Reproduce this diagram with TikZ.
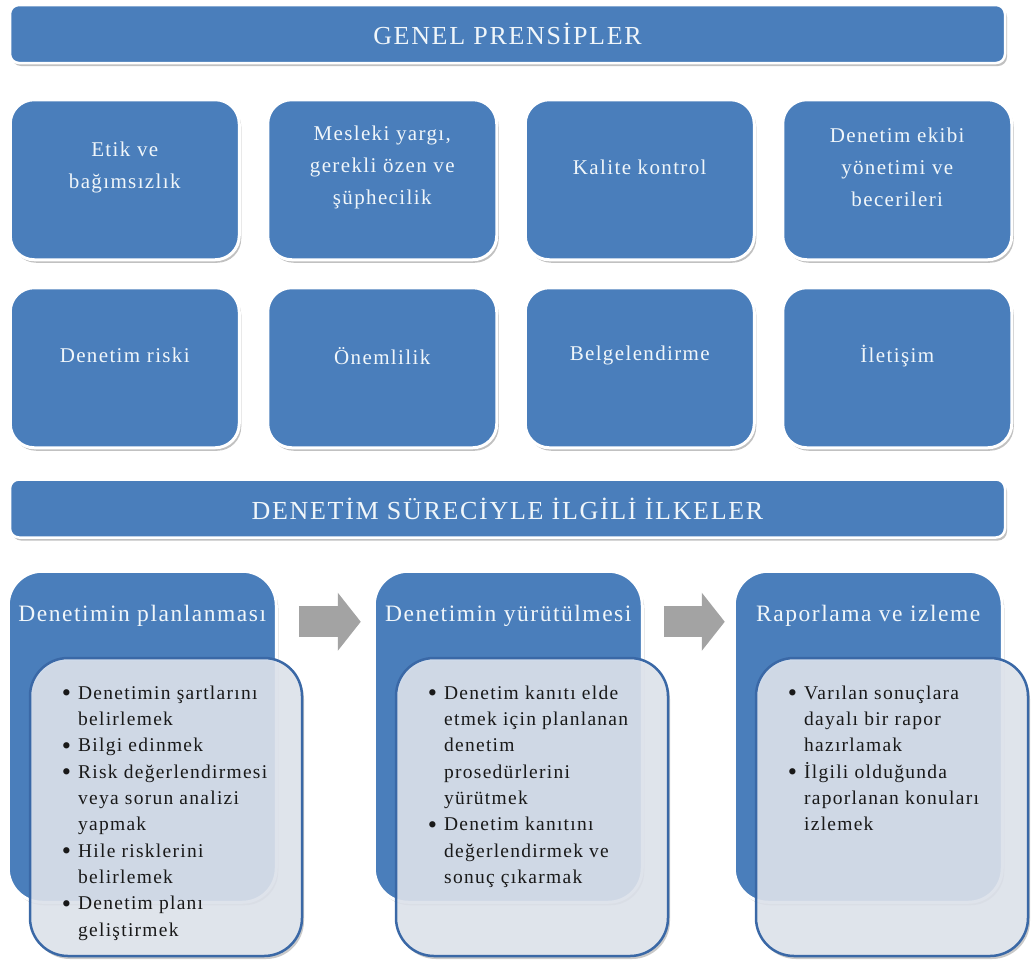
\documentclass[tikz,border=0pt]{standalone}
\usepackage{fontspec}
\setmainfont{Liberation Serif}[LetterSpace=6.5]
\usepackage{tikz}
\usetikzlibrary{arrows.meta,positioning,calc,shadows}

\definecolor{kmavi}{RGB}{74,126,187}
\definecolor{cerceve}{RGB}{58,104,166}
\definecolor{acik}{RGB}{226,231,240}
\definecolor{okgri}{RGB}{163,163,163}
\definecolor{beyazyazi}{RGB}{240,246,250}

\newcommand{\nokta}{\raisebox{-2.5pt}{\scalebox{1.35}{\textbullet}}}

\begin{document}
\begin{tikzpicture}[
	x = 1pt, y = -1pt, % pixel grid of the page
	H/.style={rectangle, rounded corners=9pt, draw=white, line width=2.5pt, fill=kmavi, minimum width=995pt, minimum height=58pt, text=beyazyazi, font=\fontsize{26pt}{30pt}\selectfont, drop shadow={shadow xshift=2pt, shadow yshift=-3pt, opacity=.35, fill=black!70}},  % banners
	K/.style={rectangle, rounded corners=24pt, draw=white, line width=3pt, fill=kmavi, minimum width=229pt, minimum height=160pt, drop shadow={shadow xshift=2pt, shadow yshift=-3pt, opacity=.35, fill=black!70}},  % principle boxes
	KT/.style={yshift=12pt, inner sep=0pt, align=center, text=beyazyazi, font=\fontsize{21pt}{32pt}\selectfont},
	P/.style={rectangle, rounded corners=34pt, draw=white, line width=3pt, fill=kmavi, minimum width=268pt, minimum height=331pt, drop shadow={shadow xshift=2pt, shadow yshift=-3pt, opacity=.35, fill=black!70}},  % phase cards
	PT/.style={anchor=north, yshift=-35pt, inner sep=0pt, text=beyazyazi, font=\fontsize{23.5pt}{28pt}\selectfont},
	L/.style={rectangle, rounded corners=38pt, draw=cerceve, line width=2.5pt, fill=acik, fill opacity=.88, minimum width=272pt, minimum height=298pt, drop shadow={shadow xshift=2pt, shadow yshift=-3pt, opacity=.3, fill=black!70}},  % list cards
	T/.style={anchor=north west, inner sep=0pt, text=black!90, font=\fontsize{19.5pt}{26.3pt}\selectfont},
	O/.style={line width=31pt, draw=okgri, -{Triangle[width=57pt, length=23pt]}},  % block arrows
	]
	\useasboundingbox (0,0) rectangle (1031,970);

	% Banners and principle boxes
	\node[H] (G) at (507.5,34) {GENEL PRENSİPLER};

	\node[K, label={[KT]center:{Etik ve\\bağımsızlık}}] (K1) [below right = 34pt and 0pt of G.south west] {};
	\node[K, label={[KT]center:{Mesleki yargı,\\gerekli özen ve\\şüphecilik}}] (K2) [right = 25.5pt of K1] {};
	\node[K, label={[KT]center:{Kalite kontrol}}] (K3) [right = 25.5pt of K2] {};
	\node[K, label={[KT]center:{Denetim ekibi\\yönetimi ve\\becerileri}}] (K4) [right = 25.5pt of K3] {};

	\node[K, label={[KT]center:{Denetim riski}}] (K5) [below = 25pt of K1] {};
	\node[K, label={[KT]center:{Önemlilik}}] (K6) [right = 25.5pt of K5] {};
	\node[K, label={[KT]center:{Belgelendirme}}] (K7) [right = 25.5pt of K6] {};
	\node[K, label={[KT]center:{İletişim}}] (K8) [right = 25.5pt of K7] {};

	\node[H] (S) [below right = 29pt and 0pt of K5.south west] {DENETİM SÜRECİYLE İLGİLİ İLKELER};

	% Phase cards
	\node[P, label={[PT]north:{Denetimin planlanması}}] (P1) [below right = 31pt and -2pt of S.south west] {};
	\node[P, label={[PT]north:{Denetimin yürütülmesi}}] (P2) [right = 95pt of P1] {};
	\node[P, label={[PT]north:{Raporlama ve izleme}}] (P3) [right = 89pt of P2] {};

	\node[L] (L1) [below right = 87pt and 22pt of P1.north west] {};
	\node[L] (L2) [below right = 87pt and 22pt of P2.north west] {};
	\node[L] (L3) [below right = 87pt and 22pt of P3.north west] {};

	\node[T] (M1) [below right = 24pt and 33pt of L1.north west] {%
		\begin{tabular}{@{}l@{\hspace{7pt}}l@{}}
		\nokta & Denetimin şartlarını\\
		       & belirlemek\\
		\nokta & Bilgi edinmek\\
		\nokta & Risk değerlendirmesi\\
		       & veya sorun analizi\\
		       & yapmak\\
		\nokta & Hile risklerini\\
		       & belirlemek\\
		\nokta & Denetim planı\\
		       & geliştirmek
		\end{tabular}};
	\node[T] (M2) [below right = 24pt and 33pt of L2.north west] {%
		\begin{tabular}{@{}l@{\hspace{7pt}}l@{}}
		\nokta & Denetim kanıtı elde\\
		       & etmek için planlanan\\
		       & denetim\\
		       & prosedürlerini\\
		       & yürütmek\\
		\nokta & Denetim kanıtını\\
		       & değerlendirmek ve\\
		       & sonuç çıkarmak
		\end{tabular}};
	\node[T] (M3) [below right = 24pt and 33pt of L3.north west] {%
		\begin{tabular}{@{}l@{\hspace{7pt}}l@{}}
		\nokta & Varılan sonuçlara\\
		       & dayalı bir rapor\\
		       & hazırlamak\\
		\nokta & İlgili olduğunda\\
		       & raporlanan konuları\\
		       & izlemek
		\end{tabular}};

	% Arrows between the phases
	\draw[O] ($(P1.north east)+(21,52)$) -- ($(P2.north west)+(-12,52)$);
	\draw[O] ($(P2.north east)+(20,52)$) -- ($(P3.north west)+(-8,52)$);

\end{tikzpicture}
\end{document}
